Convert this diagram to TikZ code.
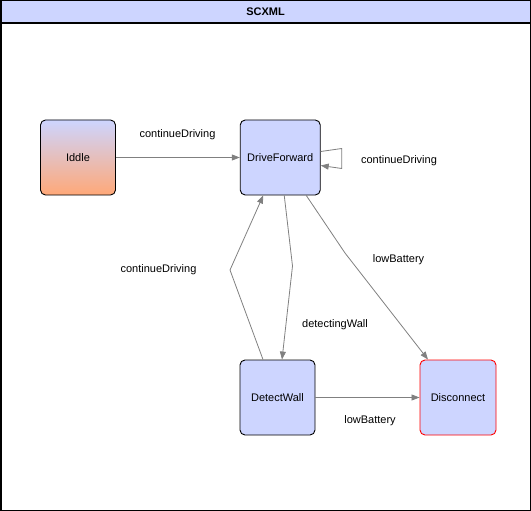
\documentclass[tikz,border=0pt]{standalone}
\usepackage{fontspec}
\setmainfont{Liberation Sans}
\usetikzlibrary{arrows.meta,calc}
\definecolor{stblue}{RGB}{205,213,255}
\definecolor{storange}{RGB}{255,168,120}
\definecolor{edgegray}{RGB}{128,128,128}
\begin{document}
\begin{tikzpicture}[x=1pt,y=-1pt,
  every node/.style={font=\fontsize{11}{13}\selectfont},
  statebox/.style={draw=black, line width=0.9pt, rounded corners=5pt, fill=stblue,
    minimum width=75pt, minimum height=75pt, inner sep=0pt, text=black},
  trans/.style={draw=edgegray, line width=0.8pt, -{Triangle[length=8pt,width=6pt]}},
  lbl/.style={text=black, inner sep=0pt}]
\useasboundingbox (0,0) rectangle (531,511);
% frame
\fill[stblue] (0.75,0.75) rectangle (530.25,23);
\draw[line width=1.5pt] (0.75,0.75) rectangle (530.25,510.25);
\draw[line width=1.2pt] (0.75,23) -- (530.25,23);
\node[font=\bfseries\fontsize{11}{13}\selectfont] (title) at (265.5,12) {SCXML};
% states
\node[statebox, top color=stblue, bottom color=storange, middle color=stblue!50!storange] (I) at (78,157.5) {Iddle};
\node[statebox, minimum width=80pt] (D) at (280.25,157.5) {DriveForward};
\node[statebox] (W) at (277.5,397.5) {DetectWall};
\node[statebox, draw=red, minimum width=76pt] (X) at (458,397.5) {Disconnect};
% transitions
\draw[trans] (I) -- (D);
\draw[trans] ($(D.east)+(0,-6)$) -- ($(D.east)+(21,-9)$) -- ($(D.east)+(21,11)$) -- ($(D.east)+(0,8)$);
\draw[trans] ($(D.south)+(4,0)$) -- (292.5,266) -- ($(W.north)+(4.5,0)$);
\draw[trans] ($(W.north)+(-14.5,0)$) -- (230,270) -- ($(D.south)+(-17,0)$);
\draw[trans] ($(D.south)+(26,0)$) -- (345,253) -- ($(X.north)+(-30,0)$);
\draw[trans] (W) -- (X);
% labels
\node[lbl] (l1) at (177.5,135) {continueDriving};
\node[lbl] (l2) at (399,160.5) {continueDriving};
\node[lbl] (l3) at (158.5,269.5) {continueDriving};
\node[lbl] (l4) at (335,324.5) {detectingWall};
\node[lbl] (l5) at (398.5,260) {lowBattery};
\node[lbl] (l6) at (370,420.5) {lowBattery};
\end{tikzpicture}
\end{document}
